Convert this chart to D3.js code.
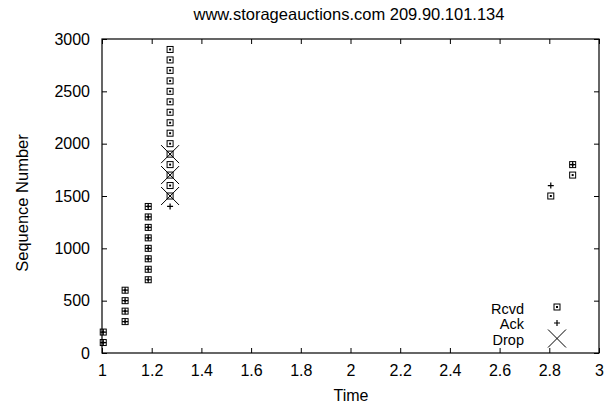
<!DOCTYPE html>
<html><head><meta charset="utf-8">
<script src="https://cdn.jsdelivr.net/npm/d3@7"></script>
<style>body{margin:0;background:#fff}svg{display:block}text{font-family:"Liberation Sans",Arial,sans-serif;fill:#000}</style>
</head><body><svg id="c" width="608" height="406"></svg>
<script>
const title = "www.storageauctions.com 209.90.101.134";
const xTicks = [1,1.2,1.4,1.6,1.8,2,2.2,2.4,2.6,2.8,3];
const yTicks = [0,500,1000,1500,2000,2500,3000];
const rcvdT = [1.005,1.005,1.093,1.093,1.093,1.093,1.186,1.186,1.186,1.186,1.186,1.186,1.186,1.186,
  1.274,1.274,1.274,1.274,1.274,1.274,1.274,1.274,1.274,1.274,1.274,1.274,1.274,1.274,1.274,2.806,2.894,2.894];
const rcvdS = [100,200,300,400,500,600,700,800,900,1000,1100,1200,1300,1400,
  1500,1600,1700,1800,1900,2000,2100,2200,2300,2400,2500,2600,2700,2800,2900,1500,1700,1800];
const ackT = [1.005,1.005,1.093,1.093,1.093,1.093,1.186,1.186,1.186,1.186,1.186,1.186,1.186,1.186,1.274,2.806,2.894];
const ackS = [100,200,300,400,500,600,700,800,900,1000,1100,1200,1300,1400,1400,1600,1800];
const dropT = [1.274,1.274,1.274];
const dropS = [1500,1700,1900];

const svg = d3.select("#c");
const L=102, R=599, T=39, B=353;
const x = d3.scaleLinear().domain([1,3]).range([L,R]);
const y = d3.scaleLinear().domain([0,3000]).range([B,T]);
const FS = 16;

svg.append("text").attr("x",349).attr("y",20).attr("text-anchor","middle").attr("font-size",16.5).text(title);

// axes
const ax = svg.append("g").attr("transform",`translate(0,${B})`).call(d3.axisBottom(x).tickValues(xTicks).tickSize(-5).tickPadding(12).tickFormat(d3.format("")));
const axT = svg.append("g").attr("transform",`translate(0,${T})`).call(d3.axisTop(x).tickValues(xTicks).tickSize(-5).tickFormat(""));
const ay = svg.append("g").attr("transform",`translate(${L},0)`).call(d3.axisLeft(y).tickValues(yTicks).tickSize(-5).tickPadding(12).tickFormat(d3.format("d")));
const ayR = svg.append("g").attr("transform",`translate(${R},0)`).call(d3.axisRight(y).tickValues(yTicks).tickSize(-5).tickFormat(""));
[ax,axT,ay,ayR].forEach(g=>{g.select(".domain").remove();g.selectAll("line").attr("stroke","#000");g.selectAll("text").attr("font-size",FS).attr("font-family","Liberation Sans, Arial, sans-serif");});
svg.append("rect").attr("x",L).attr("y",T).attr("width",R-L).attr("height",B-T).attr("fill","none").attr("stroke","#000").attr("stroke-width",1.2);

svg.append("text").attr("x",351).attr("y",401).attr("text-anchor","middle").attr("font-size",FS).text("Time");
svg.append("text").attr("transform",`translate(28,203) rotate(-90)`).attr("text-anchor","middle").attr("font-size",16.5).text("Sequence Number");

// markers
function rcvd(g){g.append("rect").attr("x",-3).attr("y",-3).attr("width",6).attr("height",6).attr("fill","none").attr("stroke","#000").attr("stroke-width",1);
  g.append("rect").attr("x",-1).attr("y",-1).attr("width",2).attr("height",2).attr("fill","#000");}
function ack(g){g.append("path").attr("d","M-3,0H3M0,-3V3").attr("stroke","#000").attr("stroke-width",1.2);}
function drop(g){g.append("path").attr("d","M-9,-9L9,9M-9,9L9,-9").attr("stroke","#000").attr("stroke-width",1);}

const pts = svg.append("g");
rcvdT.forEach((t,i)=>{rcvd(pts.append("g").attr("transform",`translate(${x(t)},${y(rcvdS[i])})`));});
ackT.forEach((t,i)=>{ack(pts.append("g").attr("transform",`translate(${x(t)},${y(ackS[i])})`));});
dropT.forEach((t,i)=>{drop(pts.append("g").attr("transform",`translate(${x(t)},${y(dropS[i])})`));});

// legend
const leg = [["Rcvd",rcvd,307,313.5],["Ack",ack,323,329],["Drop",drop,338.5,344.5]];
leg.forEach(([lab,fn,yy,base])=>{
  svg.append("text").attr("x",524).attr("y",base).attr("text-anchor","end").attr("font-size",14.5).text(lab);
  fn(svg.append("g").attr("transform",`translate(557,${yy})`));
});
</script></body></html>
